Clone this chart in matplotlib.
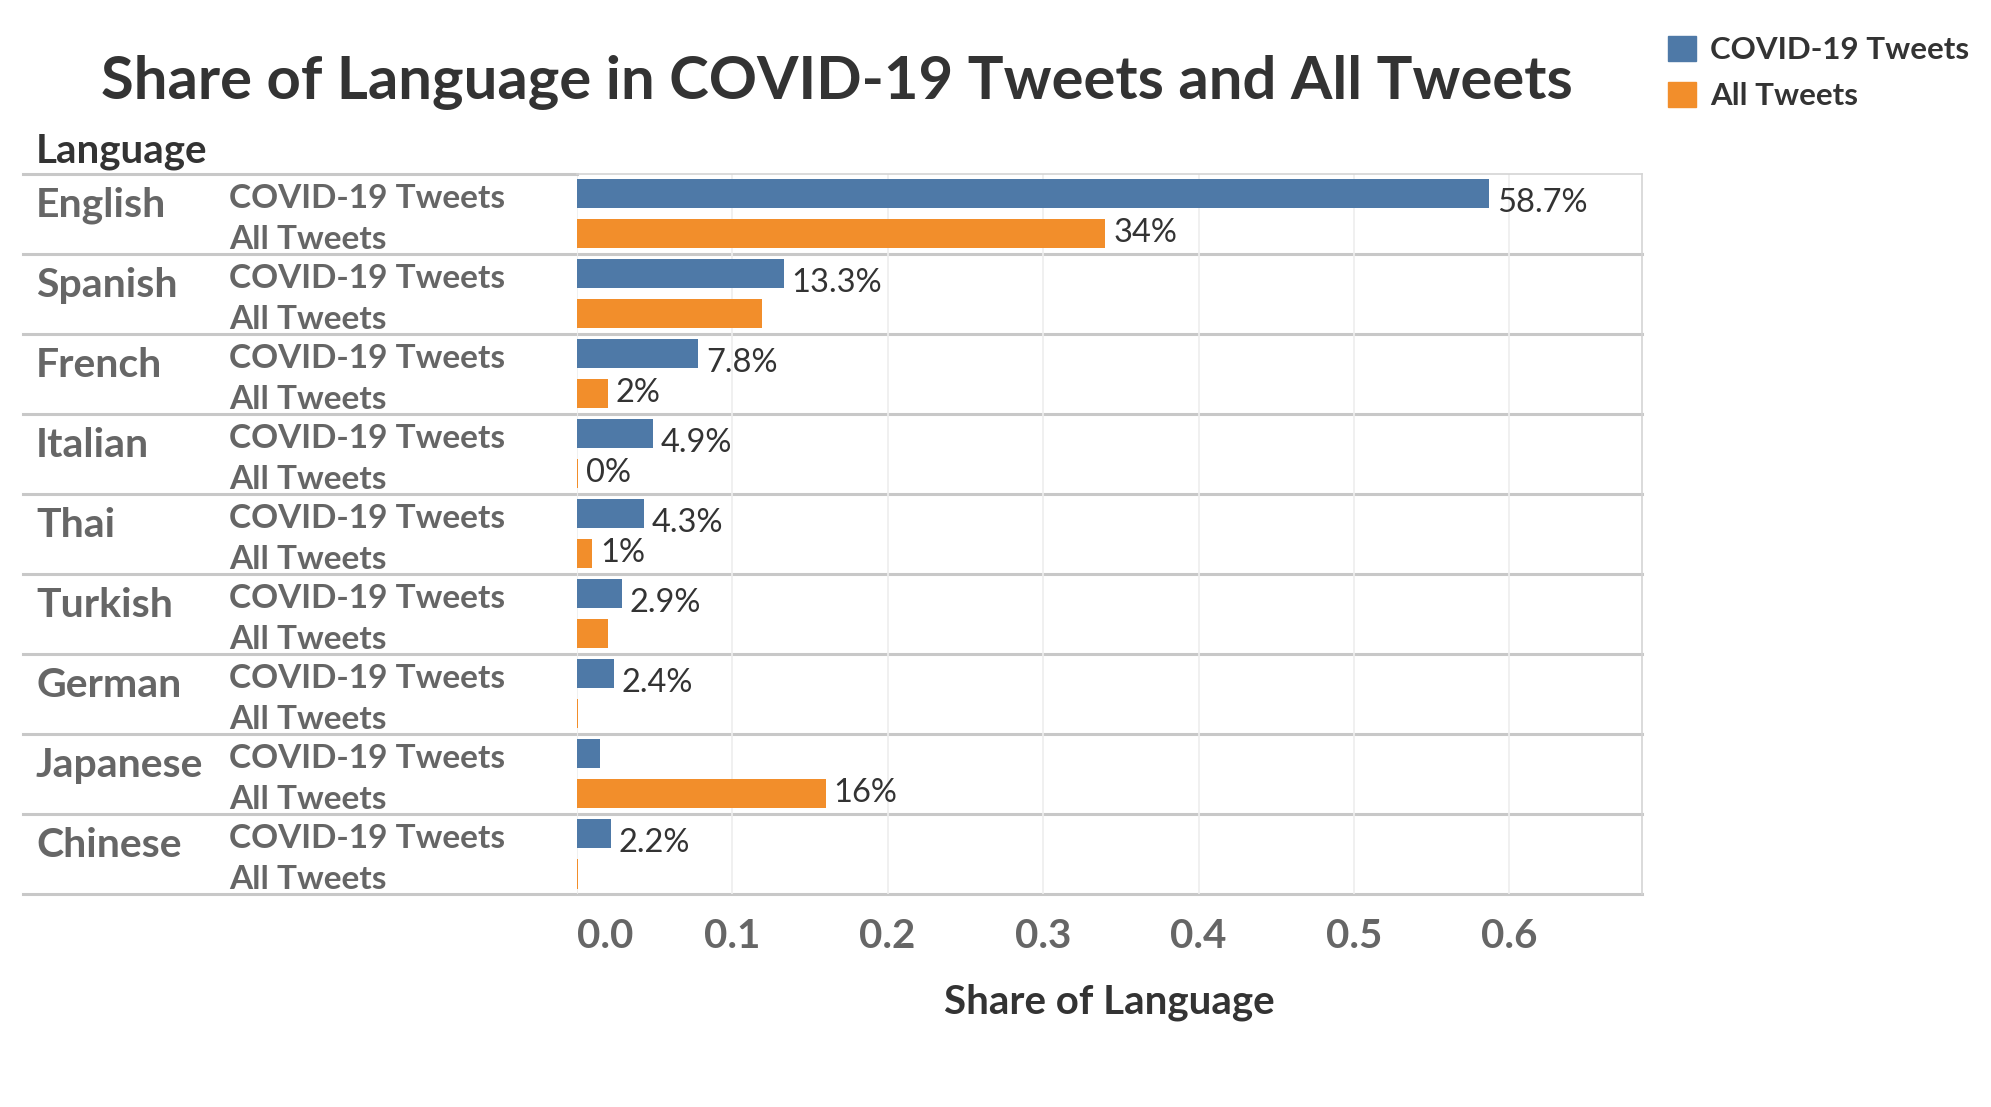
import matplotlib.pyplot as plt
from matplotlib.patches import Rectangle
from matplotlib.transforms import blended_transform_factory

plt.rcParams['font.family'] = ['Lato', 'DejaVu Sans']

# --- Data ---
languages = ["English", "Spanish", "French", "Italian", "Thai",
             "Turkish", "German", "Japanese", "Chinese"]
series = ["COVID-19 Tweets", "All Tweets"]
covid_share = [0.587, 0.133, 0.078, 0.049, 0.043, 0.029, 0.024, 0.015, 0.022]
all_share = [0.340, 0.119, 0.020, 0.001, 0.010, 0.020, 0.001, 0.160, 0.001]
covid_labels = ["58.7%", "13.3%", "7.8%", "4.9%", "4.3%", "2.9%", "2.4%", "", "2.2%"]
all_labels = ["34%", "", "2%", "0%", "1%", "", "", "16%", ""]
xticks = [0.0, 0.1, 0.2, 0.3, 0.4, 0.5, 0.6]

BLUE = "#4E79A7"
ORANGE = "#F28E2B"
DARK = "#333333"
GRAY = "#666666"
SEP = "#c8c8c8"

W, H = 1991, 1107
fig = plt.figure(figsize=(W / 100, H / 100), dpi=100)
ax = fig.add_axes([0.2897, 0.1925, 0.5348, 0.6505])

n = len(languages)
y_covid = [2 * i + 0.5 for i in range(n)]
y_all = [2 * i + 1.5 for i in range(n)]

ax.barh(y_covid, covid_share, height=0.73, color=BLUE, zorder=3)
ax.barh(y_all, all_share, height=0.73, color=ORANGE, zorder=3)

for y, v, lab in zip(y_covid, covid_share, covid_labels):
    if lab:
        ax.text(v + 0.005, y + 0.22, lab, va='center', ha='left', fontsize=23.5, color=DARK)
for y, v, lab in zip(y_all, all_share, all_labels):
    if lab:
        ax.text(v + 0.005, y - 0.03, lab, va='center', ha='left', fontsize=23.5, color=DARK)

ax.set_xlim(0, 0.685)
ax.set_ylim(2 * n, 0)
ax.set_yticks([])
ax.set_xticks(xticks)
ax.set_xticklabels([f"{t:.1f}" for t in xticks], fontsize=29, fontweight='bold', color=GRAY)
ax.get_xticklabels()[0].set_ha('left')
ax.tick_params(axis='x', length=0, pad=17)
ax.grid(axis='x', color="#eeeeee", linewidth=1.2, zorder=0)
ax.set_xlabel("Share of Language", fontsize=29, fontweight='bold', color=DARK, labelpad=21)

for s in ['left', 'bottom']:
    ax.spines[s].set_visible(False)
for s in ['top', 'right']:
    ax.spines[s].set_color("#d4d4d4")
    ax.spines[s].set_linewidth(1.2)

# row separators, extending into the label area
ax_w_px = 0.5348 * W
x_ext = -(0.2897 * W - 23) / ax_w_px
for k in range(1, n + 1):
    ax.axhline(2 * k, xmin=x_ext, xmax=1, color=SEP, linewidth=2.2, clip_on=False, zorder=1)
ax.axhline(0, xmin=x_ext, xmax=0, color=SEP, linewidth=2.2, clip_on=False)

# row labels
row_tr = blended_transform_factory(fig.transFigure, ax.transData)
for i, lang in enumerate(languages):
    ax.text(36 / W, 2 * i + 0.78, lang, transform=row_tr,
            ha='left', va='center', fontsize=29.5, fontweight='bold', color=GRAY)
    ax.text(229 / W, 2 * i + 0.61, series[0], transform=row_tr,
            ha='left', va='center', fontsize=24, fontweight='bold', color=GRAY)
    ax.text(229 / W, 2 * i + 1.63, series[1], transform=row_tr,
            ha='left', va='center', fontsize=24, fontweight='bold', color=GRAY)

fig.text(36 / W, 1 - 152 / H, "Language", ha='left', va='center',
         fontsize=29, fontweight='bold', color=DARK)

fig.text(0.4205, 1 - 82 / H, "Share of Language in COVID-19 Tweets and All Tweets",
         ha='center', va='center', fontsize=43, fontweight='bold', color=DARK)

# legend
for (y0, col, lab) in [(36, BLUE, series[0]), (82, ORANGE, series[1])]:
    fig.patches.append(Rectangle((1668 / W, 1 - (y0 + 25) / H), 28 / W, 25 / H,
                                 transform=fig.transFigure, color=col))
    fig.text(1710 / W, 1 - (y0 + 14) / H, lab, ha='left', va='center',
             fontsize=22.5, fontweight='bold', color=DARK)

fig.savefig("out.png", dpi=100)
plt.close(fig)
